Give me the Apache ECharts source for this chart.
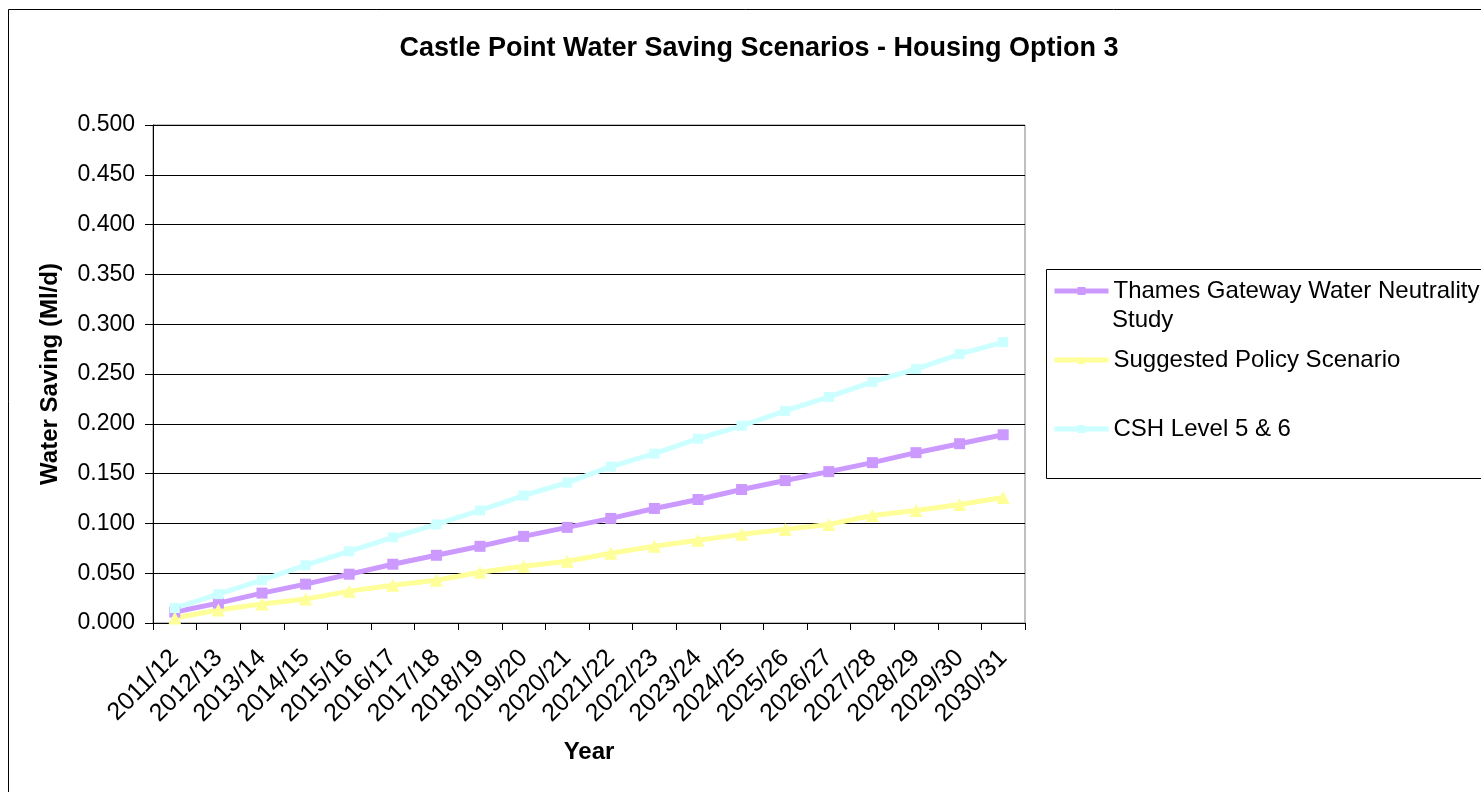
<!DOCTYPE html>
<html>
<head>
<meta charset="utf-8">
<script src="https://cdn.jsdelivr.net/npm/echarts@6/dist/echarts.min.js"></script>
<style>
  html, body { margin: 0; padding: 0; background: #fff; }
  #chart { width: 1481px; height: 792px; }
</style>
</head>
<body>
<div id="chart"></div>
<script>
// categories
const years = [
  "2011/12", "2012/13", "2013/14", "2014/15", "2015/16", "2016/17", "2017/18",
  "2018/19", "2019/20", "2020/21", "2021/22", "2022/23", "2023/24", "2024/25",
  "2025/26", "2026/27", "2027/28", "2028/29", "2029/30", "2030/31"
];
// series values (Ml/d)
const thamesGateway = [
  0.011, 0.020, 0.030, 0.039, 0.049, 0.059, 0.068, 0.077, 0.087, 0.096,
  0.105, 0.115, 0.124, 0.134, 0.143, 0.152, 0.161, 0.171, 0.180, 0.189
];
const suggestedPolicy = [
  0.005, 0.013, 0.019, 0.024, 0.032, 0.038, 0.043, 0.051, 0.057, 0.062,
  0.070, 0.077, 0.083, 0.089, 0.094, 0.099, 0.108, 0.113, 0.119, 0.126
];
const cshLevel56 = [
  0.015, 0.029, 0.043, 0.058, 0.072, 0.086, 0.099, 0.113, 0.128, 0.141,
  0.157, 0.170, 0.185, 0.198, 0.213, 0.227, 0.242, 0.255, 0.270, 0.282
];
const seriesNames = [
  "Thames Gateway Water Neutrality Study",
  "Suggested Policy Scenario",
  "CSH Level 5 & 6"
];

const FONT = "Liberation Sans, Arial, sans-serif";
const chart = echarts.init(document.getElementById("chart"));

// one legend per entry so each row sits where Excel put it
function legendRow(name, top, label) {
  return {
    data: [name],
    orient: "vertical",
    left: 1052,
    top: top,
    padding: 0,
    itemWidth: 54,
    itemHeight: 10,
    lineStyle: { width: 5 },
    textStyle: { fontFamily: FONT, fontSize: 24, color: "#000" },
    formatter: function () { return label; }
  };
}

const option = {
  animation: false,
  backgroundColor: "#fff",
  title: {
    text: "Castle Point Water Saving Scenarios - Housing Option 3",
    left: 754,
    textAlign: "center",
    top: 30,
    textStyle: { fontFamily: FONT, fontSize: 27, fontWeight: "bold", color: "#000" }
  },
  // outer frame, legend box and wrapped legend line
  graphic: [
    {
      type: "rect",
      shape: { x: 8.5, y: 9.5, width: 1500, height: 800 },
      style: { fill: "none", stroke: "#000", lineWidth: 1 },
      silent: true
    },
    {
      type: "rect",
      shape: { x: 1046.5, y: 269.5, width: 500, height: 209 },
      style: { fill: "none", stroke: "#000", lineWidth: 1 },
      silent: true
    },
    {
      type: "text",
      left: 1112,
      top: 308,
      style: { text: "Study", font: "24px " + FONT, fill: "#000" },
      silent: true
    }
  ],
  legend: [
    legendRow(seriesNames[0], 279, "Thames Gateway Water Neutrality"),
    legendRow(seriesNames[1], 348, seriesNames[1]),
    legendRow(seriesNames[2], 417, seriesNames[2])
  ],
  grid: {
    left: 153,
    top: 125,
    right: 456,
    bottom: 169,
    show: true,
    borderColor: "#808080",
    borderWidth: 1,
    containLabel: false
  },
  xAxis: {
    type: "category",
    data: years,
    boundaryGap: true,
    name: "Year",
    nameLocation: "middle",
    nameGap: 117,
    nameTextStyle: { fontFamily: FONT, fontSize: 24, fontWeight: "bold", color: "#000" },
    axisLine: { lineStyle: { color: "#000", width: 1 } },
    axisTick: { show: true, alignWithLabel: false, interval: 0, length: 7, lineStyle: { color: "#000" } },
    axisLabel: {
      interval: 0,
      rotate: 45,
      margin: 31,
      fontFamily: FONT,
      fontSize: 25,
      color: "#000"
    },
    splitLine: { show: false }
  },
  yAxis: {
    type: "value",
    min: 0,
    max: 0.5,
    interval: 0.05,
    name: "Water Saving (Ml/d)",
    nameLocation: "middle",
    nameGap: 91,
    nameRotate: 90,
    nameTextStyle: { fontFamily: FONT, fontSize: 24, fontWeight: "bold", color: "#000" },
    axisLine: { show: true, lineStyle: { color: "#000", width: 1 } },
    axisTick: { show: true, length: 8, lineStyle: { color: "#000" } },
    axisLabel: {
      margin: 18,
      fontFamily: FONT,
      fontSize: 23,
      color: "#000",
      formatter: function (v) { return v.toFixed(3); }
    },
    splitLine: { show: true, lineStyle: { color: "#000", width: 1 } }
  },
  series: [
    {
      name: seriesNames[0],
      type: "line",
      data: thamesGateway,
      symbol: "rect",
      symbolSize: 11,
      lineStyle: { color: "#cc99ff", width: 5 },
      itemStyle: { color: "#cc99ff" }
    },
    {
      name: seriesNames[1],
      type: "line",
      data: suggestedPolicy,
      symbol: "triangle",
      symbolSize: 13,
      lineStyle: { color: "#ffff99", width: 5 },
      itemStyle: { color: "#ffff99" }
    },
    {
      name: seriesNames[2],
      type: "line",
      data: cshLevel56,
      symbol: "rect",
      symbolSize: 10,
      lineStyle: { color: "#ccffff", width: 5 },
      itemStyle: { color: "#ccffff" }
    }
  ]
};

chart.setOption(option);
</script>
</body>
</html>
